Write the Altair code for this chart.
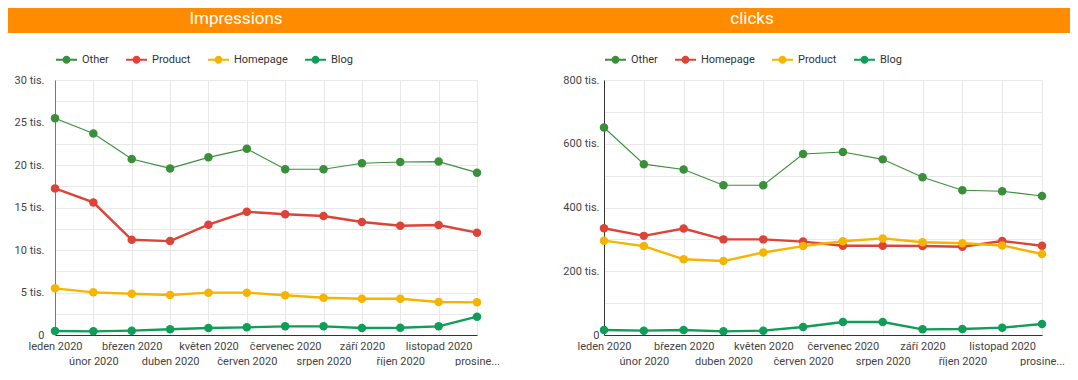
import json
import altair as alt
import pandas as pd

MONTHS = ["leden 2020", "únor 2020", "březen 2020", "duben 2020", "květen 2020",
          "červen 2020", "červenec 2020", "srpen 2020", "září 2020", "říjen 2020",
          "listopad 2020", "prosinec 2020"]

# Impressions panel
IMP_SERIES = ["Other", "Product", "Homepage", "Blog"]
imp_other = [25500, 23700, 20700, 19600, 20900, 21900, 19500, 19500, 20200, 20350, 20400, 19100]
imp_product = [17250, 15600, 11200, 11050, 12980, 14500, 14200, 14000, 13300, 12860, 12940, 12040]
imp_homepage = [5490, 5020, 4860, 4700, 4980, 4980, 4670, 4390, 4270, 4270, 3880, 3840]
imp_blog = [470, 430, 510, 670, 820, 900, 1020, 1020, 820, 860, 1020, 2160]

# clicks panel
CLK_SERIES = ["Other", "Homepage", "Product", "Blog"]
clk_other = [651000, 536000, 519000, 470000, 470000, 568000, 574000, 551000, 495000, 454000, 451000, 436000]
clk_homepage = [335000, 311000, 334000, 300000, 300000, 293000, 280000, 280000, 279000, 277000, 295000, 280000]
clk_product = [296000, 279000, 237500, 232000, 259000, 279000, 294000, 303000, 291000, 288000, 281000, 254000]
clk_blog = [15700, 13600, 15700, 11500, 13600, 25000, 40800, 40800, 17800, 18800, 23000, 34500]

COLORS = ["#3a8f3a", "#db4437", "#f4b400", "#0f9d58"]
HEADER = "#ff8c00"
FONT = "Roboto"

LEGEND_PATH = ("M-1,-0.1 L1,-0.1 L1,0.1 L-1,0.1 Z "
               "M0.38,0 A0.38,0.38 0 1,1 -0.38,0 A0.38,0.38 0 1,1 0.38,0 Z")


def panel(title, names, values, ymax, ystep, label_every, width, height,
          rect_left, rect_right, title_x, label_pad, domain_color):
    rows = []
    for name, vals in zip(names, values):
        for m, v in zip(MONTHS, vals):
            rows.append({"month": m, "series": name, "value": v})
    df = pd.DataFrame(rows)

    months_js = json.dumps(MONTHS, ensure_ascii=False)
    last = len(MONTHS) - 1
    idx = f"indexof({months_js}, datum.value)"
    xlabel = (f"{idx} == {last} ? ['', truncate(datum.label, 10, 'right', '...')] : "
              f"({idx} % 2 == 1 ? ['', datum.label] : datum.label)")
    ylabel = (f"datum.value % {label_every} != 0 ? '' : "
              f"(datum.value == 0 ? '0' : format(datum.value / 1000, 'd') + ' tis.')")

    x = alt.X("month:N", sort=MONTHS,
              scale=alt.Scale(type="point", padding=0),
              axis=alt.Axis(title=None, labelExpr=xlabel, labelAngle=0,
                            labelOverlap=False, ticks=False, grid=True,
                            gridColor="#e8e8e8", domainColor="#333333",
                            labelFontSize=11, labelColor="#444444",
                            labelPadding=5, labelLineHeight=15,
                            labelFont=FONT))
    y = alt.Y("value:Q",
              scale=alt.Scale(domain=[0, ymax], nice=False),
              axis=alt.Axis(title=None, values=list(range(0, ymax + 1, ystep)),
                            labelExpr=ylabel, ticks=False, grid=True,
                            gridColor="#e8e8e8", domainColor=domain_color,
                            labelPadding=label_pad, labelFontSize=11,
                            labelColor="#444444", labelFont=FONT))
    legend = alt.Legend(title=None, orient="none", legendX=1, legendY=-31,
                        direction="horizontal", symbolType=LEGEND_PATH,
                        symbolSize=441, symbolStrokeWidth=0,
                        labelFontSize=11, labelColor="#333333", labelFont=FONT,
                        labelOffset=5, columnPadding=17)
    color = alt.Color("series:N", scale=alt.Scale(domain=names, range=COLORS),
                      legend=legend)

    base = alt.Chart(df)
    lines = base.mark_line().encode(
        x=x, y=y, color=color, detail="series:N",
        strokeWidth=alt.condition(alt.datum.series == "Other",
                                  alt.value(1.1), alt.value(2.4)),
    )
    points = base.mark_point(filled=True, size=72, opacity=1).encode(
        x=x, y=y, color=color,
    )

    hdr = pd.DataFrame({"t": [title]})
    band = alt.Chart(hdr).mark_rect(color=HEADER).encode(
        x=alt.value(rect_left), x2=alt.value(rect_right),
        y=alt.value(-72), y2=alt.value(-47),
    )
    label = alt.Chart(hdr).mark_text(color="white", fontSize=17, font=FONT,
                                     fontWeight="normal", align="center",
                                     baseline="middle").encode(
        x=alt.value(title_x), y=alt.value(-61), text="t:N",
    )
    return alt.layer(band, label, lines, points).properties(width=width, height=height)


left = panel("Impressions", IMP_SERIES,
             [imp_other, imp_product, imp_homepage, imp_blog],
             30000, 2500, 5000, 422, 255, -47, 484, 181, 11, "#777777")
right = panel("clicks", CLK_SERIES,
              [clk_other, clk_homepage, clk_product, clk_blog],
              800000, 100000, 200000, 438, 255, -65, 466, 148, 5, "#333333")

chart = alt.hconcat(left, right, spacing=0).resolve_scale(
    color="independent"
).properties(padding=0).configure_view(strokeWidth=0)

chart.save("out.html", embed_options={"renderer": "svg", "actions": False})
